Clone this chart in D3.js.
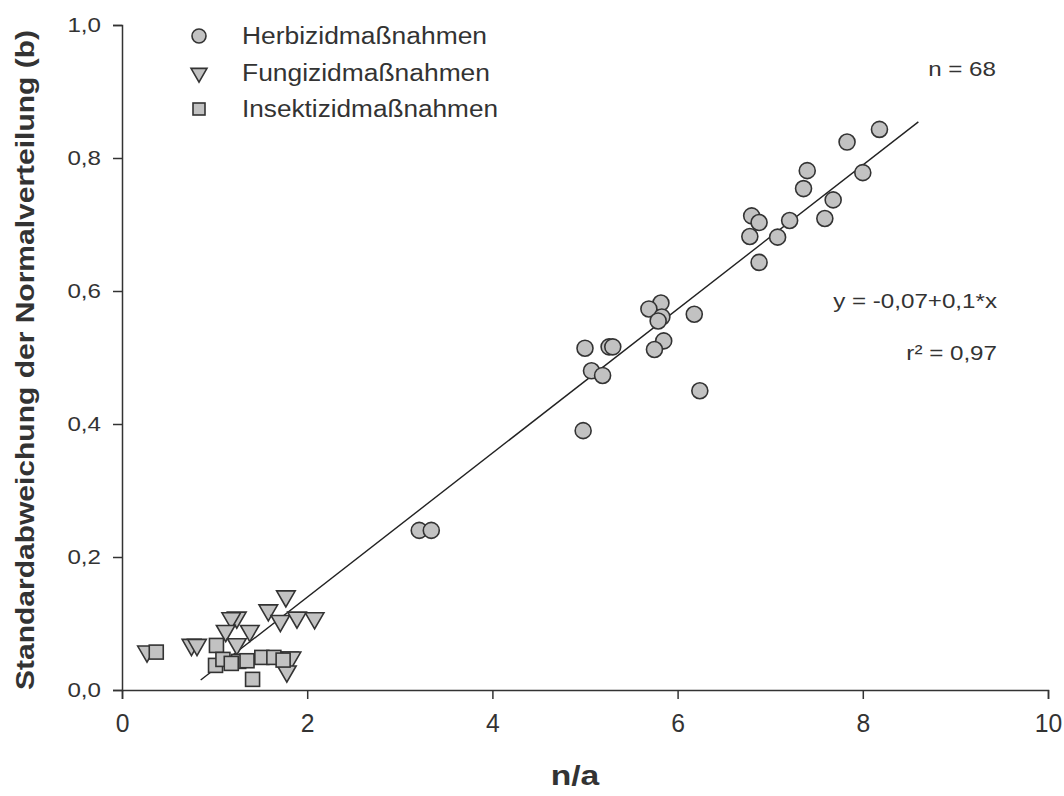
<!DOCTYPE html>
<html>
<head>
<meta charset="utf-8">
<script src="https://cdn.jsdelivr.net/npm/d3@7"></script>
<style>
  body{margin:0;background:#fff;}
  svg{display:block;font-family:"Liberation Sans",Arial,Helvetica,sans-serif;}
</style>
</head>
<body>
<div id="graph"></div>
<script>
// data
const herbX=[8.18,7.83,7.40,8.00,7.36,7.68,6.80,6.88,7.21,7.59,6.78,7.08,6.88,
  5.82,5.69,5.83,5.79,6.18,5.00,5.26,5.30,5.85,5.75,5.07,5.19,6.24,4.98,3.21,3.34]
const herbY=[0.843,0.824,0.781,0.778,0.754,0.737,0.713,0.703,0.706,0.709,0.682,0.681,0.643,
  0.582,0.573,0.561,0.555,0.565,0.514,0.516,0.516,0.525,0.512,0.480,0.473,0.450,0.390,0.240,0.240]
const fungX=[1.77,1.58,1.24,1.18,1.71,1.89,2.08,1.12,1.38,0.75,0.81,1.24,0.27,1.80,1.83,1.78]
const fungY=[0.141,0.120,0.109,0.108,0.104,0.109,0.108,0.089,0.089,0.068,0.068,0.069,0.058,0.049,0.049,0.028]
const insX=[0.37,1.02,1.01,1.09,1.26,1.35,1.51,1.64,1.41,1.74,1.18]
const insY=[0.057,0.067,0.037,0.046,0.043,0.044,0.049,0.049,0.016,0.045,0.040]
// regression line as drawn
const fitX=[0.85,8.6]
const fitA=-0.077, fitB=0.1083
const xTicks=[0,2,4,6,8,10]
const yTicks=[0,0.2,0.4,0.6,0.8,1.0]
const legendNames=["Herbizidmaßnahmen","Fungizidmaßnahmen","Insektizidmaßnahmen"]

let width=1064, height=796
let svg=d3.select("#graph").append("svg")
  .attr("width",width).attr("height",height)

let xScale=d3.scaleLinear().domain([0,10]).range([122,1048])
let yScale=d3.scaleLinear().domain([0,1]).range([690,25])

let fmt=d=>d3.format(".1f")(d).replace(".",",")

// the original lettering is a bit wider than Liberation Sans
const stretch=(sel,k)=>{
  sel.each(function(){
    let l=this.getComputedTextLength()
    d3.select(this).attr("textLength",l*k).attr("lengthAdjust","spacingAndGlyphs")
  })
}

//axes
let xAxis=svg.append("g")
  .attr("transform","translate(0,690)")
  .call(d3.axisBottom(xScale).tickValues(xTicks).tickSize(9).tickPadding(15).tickFormat(d3.format("d")))
let yAxis=svg.append("g")
  .attr("transform","translate(122,0)")
  .call(d3.axisLeft(yScale).tickValues(yTicks).tickSize(9).tickPadding(12).tickFormat(fmt))
svg.selectAll(".domain").attr("stroke","#333").attr("stroke-width",1.5)
svg.selectAll(".tick line").attr("stroke","#333").attr("stroke-width",1.5)
svg.selectAll(".tick text").attr("fill","#333")
xAxis.selectAll(".tick text").style("font-size","26px")
yAxis.selectAll(".tick text").style("font-size","21px")
stretch(xAxis.selectAll(".tick text"),0.95)
stretch(yAxis.selectAll(".tick text"),1.15)

//titles
let xt=svg.append("text")
  .attr("x",575).attr("y",785)
  .attr("text-anchor","middle")
  .style("font-size","28px").style("font-weight","bold").attr("fill","#333")
  .text("n/a")
stretch(xt,1.2)
svg.append("text")
  .attr("transform","translate(34,360) rotate(-90)")
  .attr("text-anchor","middle")
  .style("font-size","26px").style("font-weight","bold").attr("fill","#333")
  .attr("textLength",660).attr("lengthAdjust","spacingAndGlyphs")
  .text("Standardabweichung der Normalverteilung (b)")

//regression line
svg.append("line")
  .attr("x1",xScale(fitX[0])).attr("y1",yScale(fitA+fitB*fitX[0]))
  .attr("x2",xScale(fitX[1])).attr("y2",yScale(fitA+fitB*fitX[1]))
  .attr("stroke","#222").attr("stroke-width",1.4)

const fill="#c2c2c2", stroke="#333"
let tri=d3.symbol().type(d3.symbolTriangle).size(150)

// points
svg.append("g").selectAll("path")
  .data(fungX.map((d,i)=>[d,fungY[i]]))
  .enter().append("path")
  .attr("d",tri)
  .attr("transform",d=>`translate(${xScale(d[0])},${yScale(d[1])}) rotate(180)`)
  .attr("fill",fill).attr("stroke",stroke).attr("stroke-width",1.6)

svg.append("g").selectAll("rect")
  .data(insX.map((d,i)=>[d,insY[i]]))
  .enter().append("rect")
  .attr("x",d=>xScale(d[0])-7).attr("y",d=>yScale(d[1])-7)
  .attr("width",14).attr("height",14)
  .attr("fill",fill).attr("stroke",stroke).attr("stroke-width",1.6)

svg.append("g").selectAll("circle")
  .data(herbX.map((d,i)=>[d,herbY[i]]))
  .enter().append("circle")
  .attr("cx",d=>xScale(d[0])).attr("cy",d=>yScale(d[1]))
  .attr("r",8)
  .attr("fill",fill).attr("stroke",stroke).attr("stroke-width",1.6)

//legend
let leg=svg.append("g")
legendNames.forEach((name,i)=>{
  let cy=[36,73,109][i]
  if(i==0) leg.append("circle").attr("cx",199).attr("cy",cy).attr("r",7)
    .attr("fill",fill).attr("stroke",stroke).attr("stroke-width",1.6)
  if(i==1) leg.append("path").attr("d",d3.symbol().type(d3.symbolTriangle).size(110))
    .attr("transform",`translate(199,${cy}) rotate(180)`)
    .attr("fill",fill).attr("stroke",stroke).attr("stroke-width",1.6)
  if(i==2) leg.append("rect").attr("x",193).attr("y",cy-6).attr("width",12).attr("height",12)
    .attr("fill",fill).attr("stroke",stroke).attr("stroke-width",1.6)
  leg.append("text").attr("x",242).attr("y",cy+8)
    .style("font-size","23px").attr("fill","#333")
    .attr("textLength",[245,248,256][i]).attr("lengthAdjust","spacingAndGlyphs")
    .text(name)
})

//annotations
let notes=[["n = 68",996,76],["y = -0,07+0,1*x",997,308],["r² = 0,97",997,360]]
notes.forEach(n=>{
  let t=svg.append("text").attr("x",n[1]).attr("y",n[2]).attr("text-anchor","end")
    .style("font-size","21px").attr("fill","#333").text(n[0])
  stretch(t,1.15)
})
</script>
</body>
</html>
